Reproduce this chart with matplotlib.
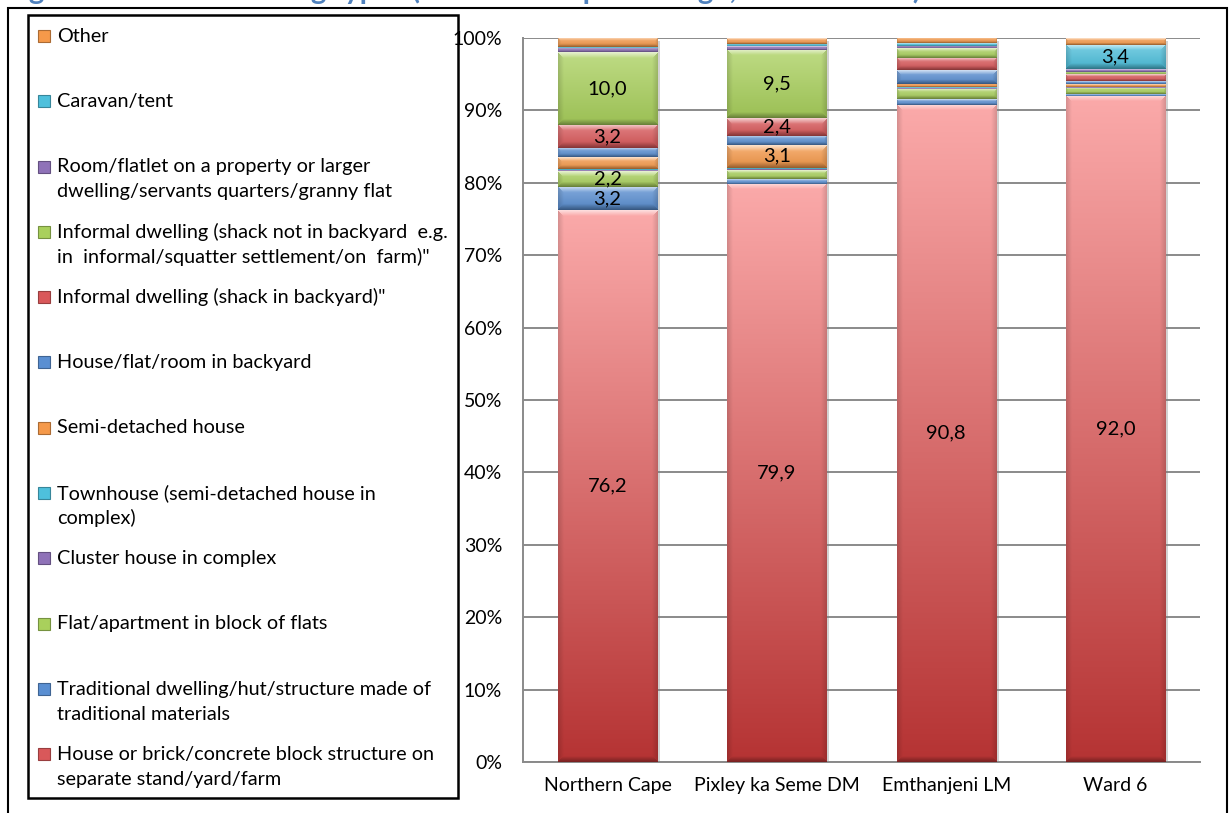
import numpy as np
import matplotlib
matplotlib.use("Agg")
import matplotlib.pyplot as plt
from matplotlib.patches import Rectangle
from matplotlib.colors import to_rgb
from matplotlib.transforms import ScaledTranslation

plt.rcParams['font.family'] = ['Lato', 'DejaVu Sans']

W, H = 1230, 813

areas = ['Northern Cape', 'Pixley ka Seme DM', 'Emthanjeni LM', 'Ward 6']

# dwelling types, bottom of the stack first
dwelling_types = [
    'House or brick/concrete block structure on\nseparate stand/yard/farm',
    'Traditional dwelling/hut/structure made of\ntraditional materials',
    'Flat/apartment in block of flats',
    'Cluster house in complex',
    'Townhouse (semi-detached house in\ncomplex)',
    'Semi-detached house',
    'House/flat/room in backyard',
    'Informal dwelling (shack in backyard)"',
    'Informal dwelling (shack not in backyard  e.g.\nin  informal/squatter settlement/on  farm)"',
    'Room/flatlet on a property or larger\ndwelling/servants quarters/granny flat',
    'Caravan/tent',
    'Other',
]

# percentage of households per dwelling type (same order as above)
northern_cape = [76.2, 3.2, 2.2, 0.1, 0.2, 1.6, 1.3, 3.2, 10.0, 0.6, 0.1, 1.3]
pixley = [79.9, 0.6, 1.2, 0.2, 0.2, 3.1, 1.3, 2.4, 9.5, 0.5, 0.3, 0.8]
emthanjeni = [90.8, 0.8, 1.4, 0.1, 0.1, 0.5, 1.9, 1.7, 1.3, 0.3, 0.4, 0.7]
ward6 = [92.0, 0.2, 0.9, 0.1, 0.1, 0.4, 0.4, 0.9, 0.3, 0.4, 3.4, 0.9]

red, blue, green = '#d9585a', '#5a8fd2', '#a9d05c'
purple, aqua, orange = '#8f72b8', '#4ec0dc', '#f5994a'
type_colors = [red, blue, green, purple, aqua, orange,
               blue, red, green, purple, aqua, orange]


def mix(c, other, a):
    return np.asarray(c) * (1 - a) + np.asarray(other) * a


def bevel_image(h_px, w_px, top, bottom):
    h = max(int(round(h_px)), 2)
    w = max(int(round(w_px)), 2)
    yy = (np.arange(h) + 0.5)[:, None] * np.ones((1, w))
    xx = (np.arange(w) + 0.5)[None, :] * np.ones((h, 1))
    t = yy / h
    img = mix(np.asarray(top)[None, None, :] * np.ones((h, w, 3)),
              np.asarray(bottom)[None, None, :] * np.ones((h, w, 3)),
              t[..., None])
    b = min(6.0, h / 3.0)
    dt, db, dl, dr = yy, h - yy, xx, w - xx
    dmin = np.minimum(np.minimum(dt, db), np.minimum(dl, dr))
    white, black = np.ones(3), np.zeros(3)
    m = (dt == dmin) & (dt < b)
    a = (0.65 * (1 - dt / b))[..., None] * m[..., None]
    img = img * (1 - a) + white * a
    m = (db == dmin) & (db < b)
    a = (0.35 * (1 - db / b))[..., None] * m[..., None]
    img = img * (1 - a) + black * a
    ds = np.minimum(dl, dr)
    m = (ds == dmin) & (ds < b) & ~((dt == dmin) | (db == dmin))
    a = (0.15 * (1 - ds / b))[..., None] * m[..., None]
    img = img * (1 - a) + black * a
    return np.clip(img, 0, 1)


fig = plt.figure(figsize=(W / 100, H / 100), dpi=100)
ax = fig.add_axes([523 / W, 51 / H, 677 / W, 724 / H])

x = np.arange(len(areas))
width = 0.585
table = np.array([northern_cape, pixley, emthanjeni, ward6]).T

# soft drop shadow behind each column
shadow = ax.transData + ScaledTranslation(3 / 100, -3 / 100, fig.dpi_scale_trans)
ax.bar(x, table.sum(axis=0), width, color='#7f7f7f', alpha=0.35,
       transform=shadow, zorder=2)

px_per_x = 677 / 4
px_per_y = 724 / 100
bottoms = np.zeros(len(areas))
for k, (vals, col) in enumerate(zip(table, type_colors)):
    bars = ax.bar(x, vals, width, bottom=bottoms, color='none',
                  edgecolor='none', zorder=3)
    for bar, v in zip(bars, vals):
        if k == 0:
            top_c, bot_c = to_rgb('#fbaaaa'), to_rgb('#b53333')
        else:
            base = to_rgb(col)
            top_c, bot_c = mix(base, np.ones(3), 0.25), mix(base, np.zeros(3), 0.08)
        img = bevel_image(v * px_per_y, width * px_per_x, top_c, bot_c)
        x0 = bar.get_x()
        ax.imshow(img, extent=[x0, x0 + bar.get_width(), bar.get_y(),
                               bar.get_y() + bar.get_height()],
                  aspect='auto', interpolation='bilinear', zorder=3)
        if v > 2.0:
            ax.text(bar.get_x() + bar.get_width() / 2,
                    bar.get_y() + bar.get_height() / 2,
                    f'{v:.1f}'.replace('.', ','), ha='center', va='center',
                    fontsize=14.5, color='black', zorder=5)
    bottoms += vals

ax.set_xlim(-0.5, len(areas) - 0.5)
ax.set_ylim(0, 100)
ax.set_yticks(np.arange(0, 101, 10))
ax.set_yticklabels([f'{v}%' for v in range(0, 101, 10)], fontsize=14)
ax.set_xticks(x)
ax.set_xticklabels(areas, fontsize=14)
ax.tick_params(axis='y', length=0, pad=15)
ax.tick_params(axis='x', length=0, pad=11)
ax.set_axisbelow(True)
ax.yaxis.grid(True, color='#8a8a8a', lw=1.4)
for side in ['top', 'right']:
    ax.spines[side].set_visible(False)
for side in ['left', 'bottom']:
    ax.spines[side].set_color('#8a8a8a')
    ax.spines[side].set_linewidth(1.4)

# outer chart frame and legend frame
fig.add_artist(Rectangle((8 / W, -0.02), (1227 - 8) / W, 1.02 - 8 / H,
                         transform=fig.transFigure, fill=False,
                         ec='black', lw=1.5))
fig.add_artist(Rectangle((28 / W, 1 - 798 / H), 430 / W, (798 - 15) / H,
                         transform=fig.transFigure, fill=False,
                         ec='black', lw=1.8))

# legend, top entry is the last series
for i, k in enumerate(range(len(dwelling_types) - 1, -1, -1)):
    yc = 36 + i * 65.3
    fig.add_artist(Rectangle((38 / W, 1 - (yc + 6) / H), 12 / W, 12 / H,
                             transform=fig.transFigure,
                             fc=type_colors[k], ec=mix(to_rgb(type_colors[k]), np.zeros(3), 0.3),
                             lw=0.8))
    for j, line in enumerate(dwelling_types[k].split('\n')):
        fig.text(57 / W, 1 - (yc + j * 25) / H, line, ha='left',
                 va='center', fontsize=14.3)

# caption sits above the chart frame, only its lower edge shows
title = fig.text(5 / W, 1 + 1 / H,
                 'Figure 12: Main dwelling types (number and percentage; '
                 'Census 2011)',
                 color='#4f81bd', fontweight='bold', ha='left', va='baseline',
                 fontsize=15)
fig.canvas.draw()
bb = title.get_window_extent(fig.canvas.get_renderer())
title.set_fontsize(15 * 917 / bb.width)

fig.savefig('out.png', dpi=100)
